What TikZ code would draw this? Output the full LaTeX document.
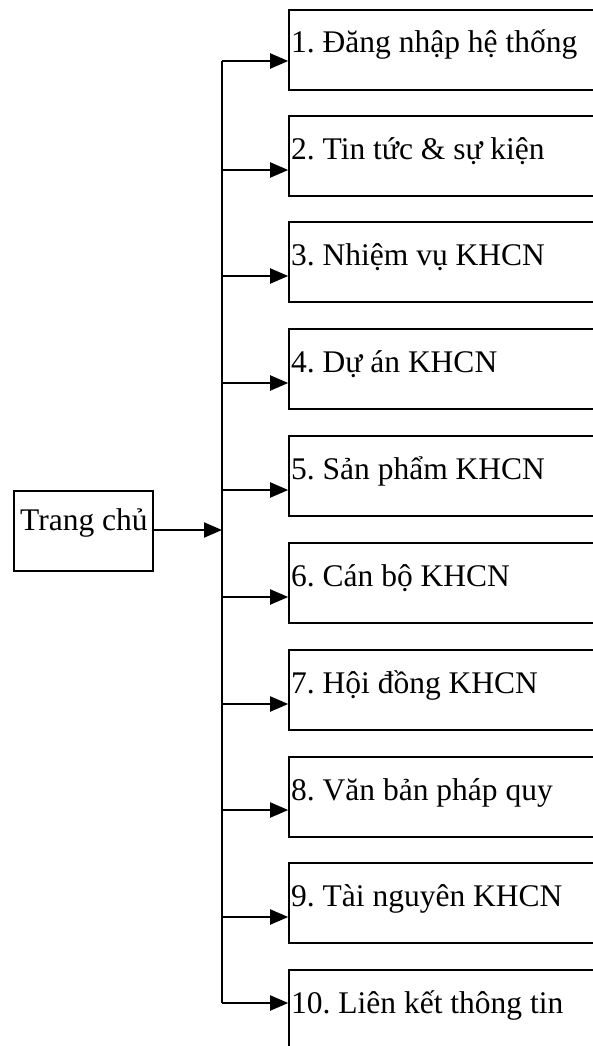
\documentclass[tikz,border=0pt]{standalone}
\usepackage{fontspec}
\setmainfont{Liberation Serif}
\usetikzlibrary{arrows.meta,fit}
\frenchspacing
\begin{document}
\begin{tikzpicture}[x=1pt,y=-1pt,
  box/.style={draw, line width=1.6pt, inner sep=0pt},
  homebox/.style={draw, line width=1.6pt, minimum width=139pt, minimum height=80pt,
    inner sep=0pt, anchor=north west},
  lbl/.style={anchor=base west, inner sep=0pt, font=\fontsize{31.5}{36}\selectfont},
  wire/.style={line width=2pt},
  arr/.style={wire, -{Triangle[length=18pt,width=15pt]}}]
\useasboundingbox (0,0) rectangle (593,1046);
\clip (-1,-1) rectangle (593,1047);
% menu items: top edge of each box and height of its incoming arrow
\foreach \i/\top/\ay/\txt in {
  1/10/61/{1. Đăng nhập hệ thống},
  2/116/170/{2. Tin tức \& sự kiện},
  3/222/276/{3. Nhiệm vụ KHCN},
  4/329/383/{4. Dự án KHCN},
  5/436/490/{5. Sản phẩm KHCN},
  6/543/597/{6. Cán bộ KHCN},
  7/650/704/{7. Hội đồng KHCN},
  8/757/810/{8. Văn bản pháp quy},
  9/863/917/{9. Tài nguyên KHCN},
  10/970/1003/{10. Liên kết thông tin}} {
  % box runs on past the right edge of the page
  \coordinate (nw\i) at (289,\top);
  \coordinate (se\i) at (640,\top+80);
  \node[box, fit=(nw\i)(se\i)] (b\i) {};
  \node[lbl] (t\i) at (291,\top+43) {\txt};
  \coordinate (j\i) at (222,\ay);
  \draw[arr] (j\i) -- (j\i -| b\i.west);
}
% main bus
\draw[wire] (j1) -- (j10);
% home page
\node[homebox] (home) at (13,490) {};
\node[lbl] (hometxt) at (20,530) {Trang chủ};
\coordinate (hj) at (222,530);
\draw[arr] (home.east |- hj) -- (hj);
\end{tikzpicture}
\end{document}
